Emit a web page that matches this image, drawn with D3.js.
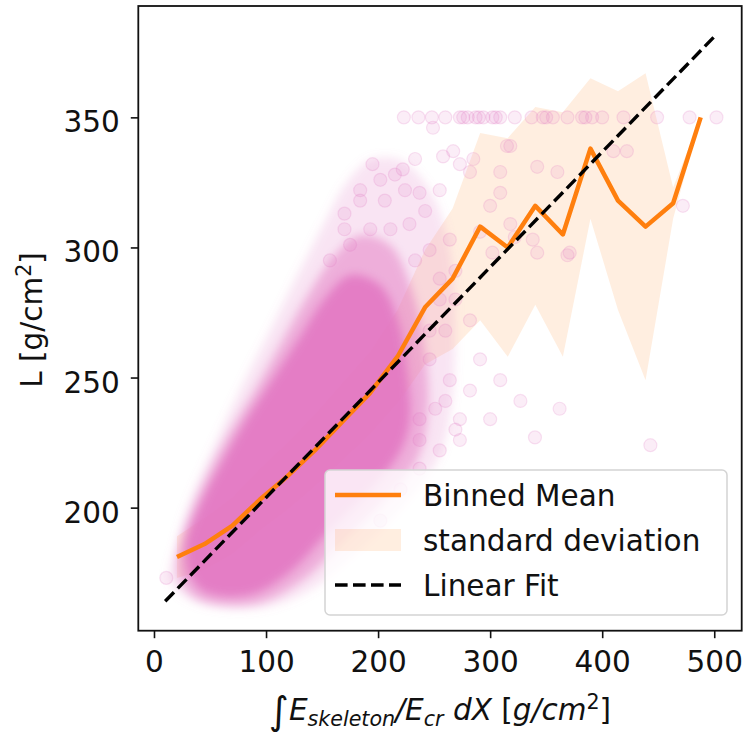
<!DOCTYPE html>
<html>
<head>
<meta charset="utf-8">
<script src="https://cdn.jsdelivr.net/npm/d3@7"></script>
<style>
  body { margin: 0; background: #fff; }
  text { font-family: "DejaVu Sans", sans-serif; fill: #111; }
</style>
</head>
<body>
<svg id="chart" width="746" height="732"></svg>
<script>
// binned mean of L with its standard deviation
let binX = [20.5, 45.1, 69.7, 94.3, 118.9, 143.5, 168.1, 192.7, 217.3, 241.9,
            266.5, 291.1, 315.7, 340.3, 364.9, 389.5, 414.1, 438.7, 463.3, 487.9]
let binMean = [181, 186, 193, 203, 212, 222, 233, 244, 258, 277,
               288, 308, 300, 316, 305, 338, 318, 308, 317, 350]
let binStd = [8, 10, 11, 12, 13, 14, 15, 16, 18, 22,
              27, 36, 42, 38, 47, 27, 42, 59, 6, 0]

// linear fit end points
let fitX = [10, 500]
let fitL = [164, 381]

// outlines of the scatter cloud: faint halo, medium, dense core
let haloX = [14.3, 36.6, 94.6, 139.2, 183.8, 224.0, 255.2, 265.9, 268.6, 264.1, 246.3,
             219.5, 192.8, 170.4, 152.6, 130.3, 103.5, 76.7, 51.8, 32.1, 19.6]
let haloL = [172.1, 163.7, 161.4, 168.3, 183.7, 201.0, 220.2, 241.3, 268.2, 299.0, 322.0,
             333.6, 333.6, 324.0, 310.0, 291.3, 268.2, 245.2, 222.1, 202.9, 185.7]

let midX = [23.2, 41.0, 90.1, 130.3, 170.4, 206.1, 235.6, 244.5, 241.8, 230.2,
            210.6, 183.8, 161.5, 134.7, 112.4, 90.1, 66.0, 45.5, 30.3, 21.4]
let midL = [172.1, 164.5, 163.0, 171.4, 187.6, 203.0, 219.1, 237.5, 260.6, 283.6,
            300.9, 304.7, 297.1, 279.8, 262.5, 245.2, 227.9, 210.6, 195.3, 181.8]

let coreX = [32.1, 45.5, 85.7, 121.4, 157.1, 192.8, 219.5, 228.4, 225.8, 217.7,
             201.7, 174.9, 152.6, 128.5, 105.3, 82.1, 60.7, 41.0, 28.6]
let coreL = [174.1, 167.6, 166.5, 175.3, 191.4, 206.8, 221.4, 233.7, 252.9, 272.1,
             285.5, 289.3, 280.5, 264.4, 249.1, 233.7, 217.6, 201.0, 185.7]

// isolated points outside the dense cloud
let ptX = [223, 236, 248, 260, 273, 276, 280, 287, 290, 294, 302, 305, 309, 322, 337, 347, 350, 356, 369, 382, 385, 391, 400, 419, 449, 478, 502,
           249, 258, 222, 237, 273, 282, 309, 318, 342, 360, 410, 422, 472, 309, 300, 291, 318, 338, 342, 371, 302, 267, 285, 315, 369, 322,
           443, 340, 362, 11, 184, 202, 170, 157, 211, 233, 255, 269, 282, 246, 291, 309, 273, 300, 327, 237, 260, 282,
           237, 255, 220, 273, 202, 246,
           170, 184, 195, 206, 215, 224, 233, 175, 193, 228, 242, 255, 246, 264, 269, 255, 260, 246, 264, 251, 237, 269]
let ptL = [350, 350, 350, 350, 350, 350, 350, 350, 350, 350, 350, 350, 350, 350, 350, 350, 350, 350, 350, 350, 350, 350, 350, 350, 350, 350, 350,
           346, 335, 330, 321, 332, 329, 329, 339, 331, 329, 337, 337, 316, 321, 316, 306, 309, 303, 298, 298, 298, 337, 334, 339, 297, 304,
           224, 227, 238, 173, 318, 326, 307, 295, 307, 295, 288, 280, 272, 268, 257, 249, 234, 234, 241, 234, 241, 245,
           215, 222, 207, 226, 195, 203,
           313, 322, 332, 318, 328, 322, 334, 301, 307, 309, 314, 322, 299, 303, 291, 280, 268, 257, 249, 238, 226, 230]

let xTicks = [0, 100, 200, 300, 400, 500]
let yTicks = [200, 250, 300, 350]

let pink = '#e377c2'
let orange = '#ff7f0e'
let fontSize = 29.5

let svg = d3.select('#chart')

let x = d3.scaleLinear().domain([-14, 524.5]).range([138.3, 741.7])
let y = d3.scaleLinear().domain([152.7, 392.8]).range([630.7, 6])

let defs = svg.append('defs')
defs.append('clipPath').attr('id', 'plotClip')
  .append('rect')
  .attr('x', x.range()[0]).attr('y', y.range()[1])
  .attr('width', x.range()[1] - x.range()[0])
  .attr('height', y.range()[0] - y.range()[1])
defs.append('filter').attr('id', 'soft')
  .attr('x', '-20%').attr('y', '-20%').attr('width', '140%').attr('height', '140%')
  .append('feGaussianBlur').attr('stdDeviation', 5)

let plot = svg.append('g').attr('clip-path', 'url(#plotClip)')

// standard deviation band
let band = d3.area()
  .x((d, i) => x(binX[i]))
  .y0((d, i) => y(binMean[i] - binStd[i]))
  .y1((d, i) => y(binMean[i] + binStd[i]))
plot.append('path')
  .attr('d', band(binX))
  .attr('fill', orange)
  .attr('fill-opacity', 0.13)

// scatter cloud
let cloud = plot.append('g').attr('filter', 'url(#soft)')
function cloudLayer(xs, ls, op) {
  let outline = d3.line()
    .x((d, i) => x(xs[i]))
    .y((d, i) => y(ls[i]))
    .curve(d3.curveCatmullRomClosed)
  cloud.append('path').attr('d', outline(xs)).attr('fill', pink).attr('fill-opacity', op)
}
cloudLayer(haloX, haloL, 0.2)
cloudLayer(midX, midL, 0.5)
cloudLayer(coreX, coreL, 0.85)

plot.append('g').selectAll('circle')
  .data(ptX)
  .enter()
  .append('circle')
  .attr('cx', (d) => x(d))
  .attr('cy', (d, i) => y(ptL[i]))
  .attr('r', 6.5)
  .attr('fill', pink)
  .attr('fill-opacity', 0.13)
  .attr('stroke', pink)
  .attr('stroke-opacity', 0.2)
  .attr('stroke-width', 1.2)

// binned mean
let meanLine = d3.line().x((d, i) => x(binX[i])).y((d, i) => y(binMean[i]))
plot.append('path')
  .attr('d', meanLine(binX))
  .attr('fill', 'none')
  .attr('stroke', orange)
  .attr('stroke-width', 4.5)
  .attr('stroke-linejoin', 'round')

// linear fit
let fitLine = d3.line().x((d, i) => x(fitX[i])).y((d, i) => y(fitL[i]))
plot.append('path')
  .attr('d', fitLine(fitX))
  .attr('fill', 'none')
  .attr('stroke', '#000')
  .attr('stroke-width', 3.4)
  .attr('stroke-dasharray', '12.6,5.4')

// axes
let xAxis = svg.append('g')
  .attr('transform', 'translate(0,' + y.range()[0] + ')')
  .call(d3.axisBottom(x).tickValues(xTicks).tickSize(7.5).tickPadding(13))
let yAxis = svg.append('g')
  .attr('transform', 'translate(' + x.range()[0] + ',0)')
  .call(d3.axisLeft(y).tickValues(yTicks).tickSize(7.5).tickPadding(11))
yAxis.selectAll('text').attr('dy', '0.49em')
;[xAxis, yAxis].forEach(function (g) {
  g.select('.domain').remove()
  g.selectAll('line').attr('stroke', '#111').attr('stroke-width', 1.6)
  g.selectAll('text')
    .attr('font-size', fontSize)
    .attr('font-family', '"DejaVu Sans", sans-serif')
    .attr('fill', '#111')
})

// frame
svg.append('rect')
  .attr('x', x.range()[0]).attr('y', y.range()[1])
  .attr('width', x.range()[1] - x.range()[0])
  .attr('height', y.range()[0] - y.range()[1])
  .attr('fill', 'none')
  .attr('stroke', '#111')
  .attr('stroke-width', 1.8)

// axis labels
let yLabel = svg.append('text')
  .attr('transform', 'translate(42,320) rotate(-90)')
  .attr('text-anchor', 'middle')
  .attr('font-size', fontSize)
yLabel.append('tspan').text('L [g/cm')
yLabel.append('tspan').attr('font-size', fontSize * 0.7).attr('dy', -11).text('2')
yLabel.append('tspan').attr('dy', 11).text(']')

let xLabel = svg.append('text')
  .attr('x', 440).attr('y', 720)
  .attr('text-anchor', 'middle')
  .attr('font-size', fontSize)
xLabel.append('tspan').attr('font-size', fontSize * 1.3).attr('dy', 4).text('∫')
xLabel.append('tspan').attr('font-style', 'italic').attr('dy', -4).text('E')
xLabel.append('tspan').attr('font-style', 'italic').attr('font-size', fontSize * 0.7).attr('dy', 6).text('skeleton')
xLabel.append('tspan').attr('font-style', 'italic').attr('dy', -6).text('/E')
xLabel.append('tspan').attr('font-style', 'italic').attr('font-size', fontSize * 0.7).attr('dy', 6).text('cr')
xLabel.append('tspan').attr('font-style', 'italic').attr('dy', -6).text(' dX ')
xLabel.append('tspan').text('[')
xLabel.append('tspan').attr('font-style', 'italic').text('g/cm')
xLabel.append('tspan').attr('font-size', fontSize * 0.7).attr('dy', -11).text('2')
xLabel.append('tspan').attr('dy', 11).text(']')

// legend
let legend = svg.append('g')
legend.append('rect')
  .attr('x', 325).attr('y', 470).attr('width', 402).attr('height', 145).attr('rx', 5)
  .attr('fill', '#fff').attr('fill-opacity', 0.8)
  .attr('stroke', '#d4d4d4').attr('stroke-width', 1.5)
let rows = ['Binned Mean', 'standard deviation', 'Linear Fit']
rows.forEach(function (label, i) {
  let base = 506 + i * 45
  if (i === 0) {
    legend.append('line').attr('x1', 335).attr('x2', 401).attr('y1', base - 11).attr('y2', base - 11)
      .attr('stroke', orange).attr('stroke-width', 4.5)
  } else if (i === 1) {
    legend.append('rect').attr('x', 335).attr('y', base - 22).attr('width', 66).attr('height', 22)
      .attr('fill', orange).attr('fill-opacity', 0.13)
  } else {
    legend.append('line').attr('x1', 335).attr('x2', 401).attr('y1', base - 11).attr('y2', base - 11)
      .attr('stroke', '#000').attr('stroke-width', 3.4).attr('stroke-dasharray', '12.6,5.4')
  }
  legend.append('text').attr('x', 423).attr('y', base).attr('font-size', fontSize).text(label)
})
</script>
</body>
</html>
